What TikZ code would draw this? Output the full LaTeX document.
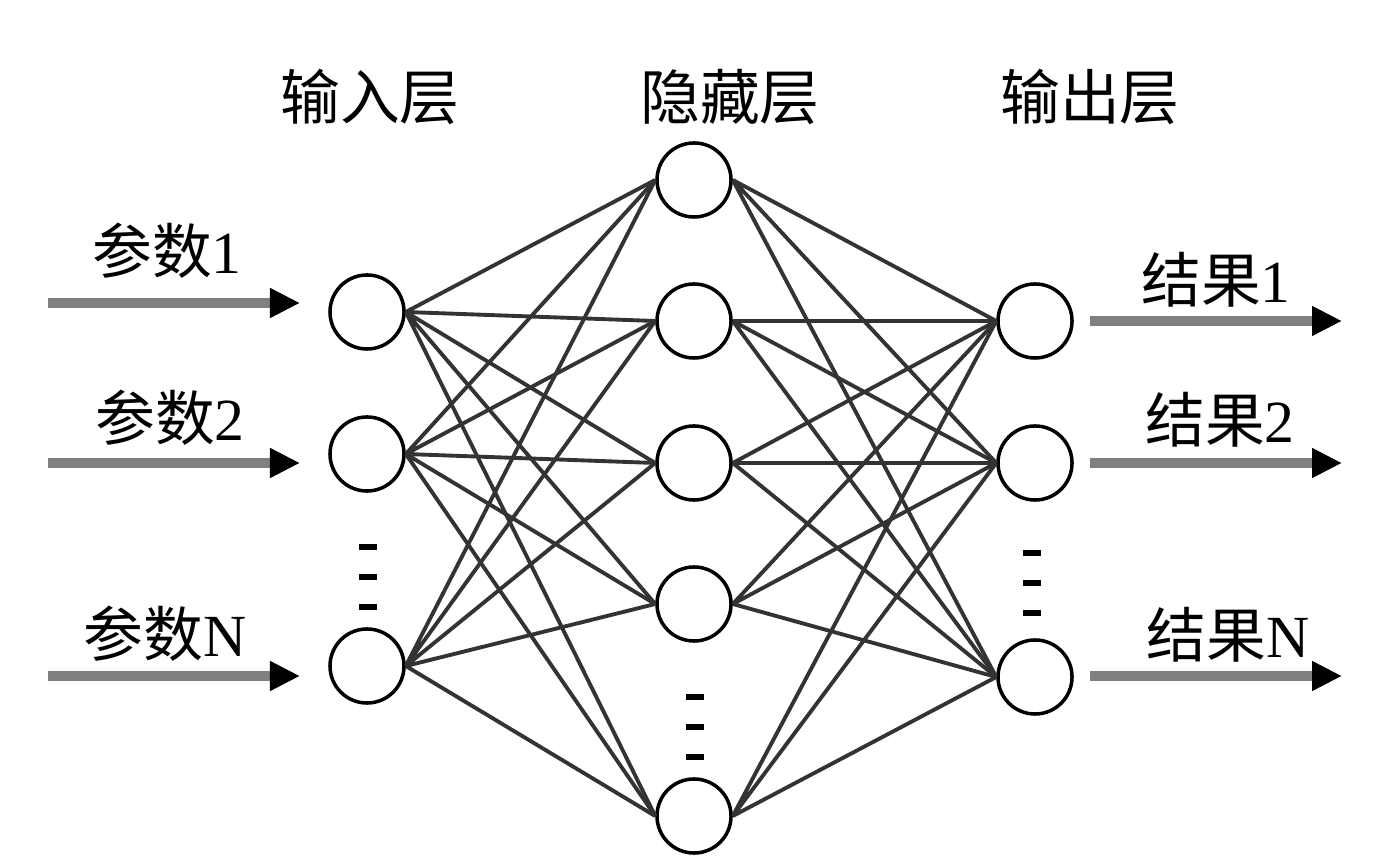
\documentclass[tikz,border=0pt]{standalone}
\usepackage{fontspec}
\setmainfont{Liberation Serif}
\newfontfamily\cjk{Noto Sans CJK SC}
\usetikzlibrary{arrows.meta}

\tikzset{
    neuron/.style={circle, draw, line width=1pt, minimum size=0.74cm, inner sep=0pt, fill=white},
    link/.style={black!80, line width=1.1pt},
    feed/.style={black!50, line width=3pt, -{Triangle[length=0.3cm, width=0.28cm, color=black]}},
    gapmark/.style={line width=1.6pt},
}

\begin{document}
\begin{tikzpicture}[x=0.01cm, y=-0.01cm, font=\fontsize{17pt}{20pt}\selectfont]
    \useasboundingbox (0,0) rectangle (1383,868);

    % layer titles
    \node (tin)  at (370,97)  {\cjk 输入层};
    \node (thid) at (730,97)  {\cjk 隐藏层};
    \node (tout) at (1090,97) {\cjk 输出层};

    % neurons
    \node[neuron] (i1) at (367,312) {};
    \node[neuron] (i2) at (367,454) {};
    \node[neuron] (iN) at (367,666) {};

    \node[neuron] (h1) at (694,180) {};
    \node[neuron] (h2) at (694,321) {};
    \node[neuron] (h3) at (694,463) {};
    \node[neuron] (h4) at (694,604) {};
    \node[neuron] (h5) at (694,816) {};

    \node[neuron] (o1) at (1035,321) {};
    \node[neuron] (o2) at (1035,463) {};
    \node[neuron] (oN) at (1035,677) {};

    % full connections
    \draw[link] (i1.east) -- (h1.west) (i1.east) -- (h2.west) (i1.east) -- (h3.west) (i1.east) -- (h4.west) (i1.east) -- (h5.west);
    \draw[link] (i2.east) -- (h1.west) (i2.east) -- (h2.west) (i2.east) -- (h3.west) (i2.east) -- (h4.west) (i2.east) -- (h5.west);
    \draw[link] (iN.east) -- (h1.west) (iN.east) -- (h2.west) (iN.east) -- (h3.west) (iN.east) -- (h4.west) (iN.east) -- (h5.west);

    \draw[link] (h1.east) -- (o1.west) (h1.east) -- (o2.west) (h1.east) -- (oN.west);
    \draw[link] (h2.east) -- (o1.west) (h2.east) -- (o2.west) (h2.east) -- (oN.west);
    \draw[link] (h3.east) -- (o1.west) (h3.east) -- (o2.west) (h3.east) -- (oN.west);
    \draw[link] (h4.east) -- (o1.west) (h4.east) -- (o2.west) (h4.east) -- (oN.west);
    \draw[link] (h5.east) -- (o1.west) (h5.east) -- (o2.west) (h5.east) -- (oN.west);

    % vertical ellipses
    \draw[gapmark] (359,547) -- (377,547);
    \draw[gapmark] (359,577) -- (377,577);
    \draw[gapmark] (359,607) -- (377,607);

    \draw[gapmark] (686,697) -- (704,697);
    \draw[gapmark] (686,727) -- (704,727);
    \draw[gapmark] (686,757) -- (704,757);

    \draw[gapmark] (1023,553) -- (1041,553);
    \draw[gapmark] (1023,583) -- (1041,583);
    \draw[gapmark] (1023,613) -- (1041,613);

    % inputs
    \coordinate (a1s) at (48,303);
    \coordinate (a1e) at (300,303);
    \coordinate (a2s) at (48,463);
    \coordinate (a2e) at (300,463);
    \coordinate (aNs) at (48,676);
    \coordinate (aNe) at (300,676);
    \draw[feed] (a1s) -- (a1e);
    \draw[feed] (a2s) -- (a2e);
    \draw[feed] (aNs) -- (aNe);

    \node (p1) at (167,251) {\cjk 参数\rmfamily 1};
    \node (p2) at (170,418) {\cjk 参数\rmfamily 2};
    \node (pN) at (165,634) {\cjk 参数\rmfamily N};

    % outputs
    \coordinate (b1s) at (1090,321);
    \coordinate (b1e) at (1342,321);
    \coordinate (b2s) at (1090,463);
    \coordinate (b2e) at (1342,463);
    \coordinate (bNs) at (1090,676);
    \coordinate (bNe) at (1342,676);
    \draw[feed] (b1s) -- (b1e);
    \draw[feed] (b2s) -- (b2e);
    \draw[feed] (bNs) -- (bNe);

    \node (r1) at (1216,280) {\cjk 结果\rmfamily 1};
    \node (r2) at (1220,420) {\cjk 结果\rmfamily 2};
    \node (rN) at (1228,635) {\cjk 结果\rmfamily N};
\end{tikzpicture}
\end{document}
